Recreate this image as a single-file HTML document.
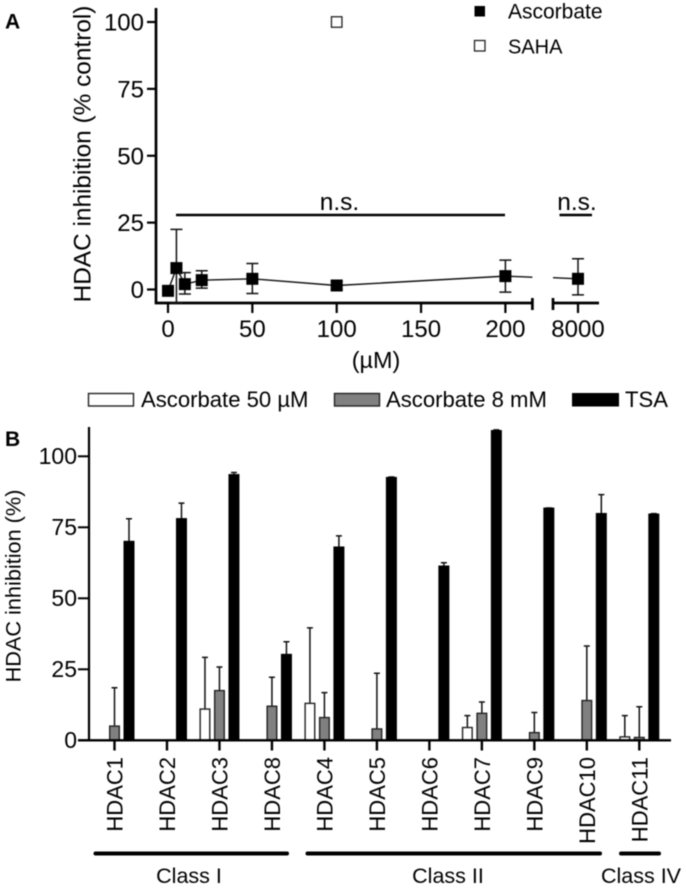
<!DOCTYPE html>
<html lang="en">
<head>
<meta charset="utf-8">
<title>HDAC inhibition chart</title>
<style>
html,body{margin:0;padding:0;background:#fff;}
svg{display:block;filter:blur(0.45px);}
text{font-family:"Liberation Sans",sans-serif;fill:#000;}
</style>
</head>
<body>
<svg id="chart" xmlns="http://www.w3.org/2000/svg" width="686" height="888" viewBox="0 0 686 888">
  <rect width="686" height="888" fill="#fff"/>
  <text x="5" y="28.5" font-size="21" font-weight="bold">A</text>
  <text x="5" y="446" font-size="21" font-weight="bold">B</text>
  <text transform="translate(90.5,154) rotate(-90)" text-anchor="middle" font-size="24.4">HDAC inhibition (% control)</text>
  <text x="376" y="368" text-anchor="middle" font-size="23.4">(µM)</text>
  <text transform="translate(20.5,586) rotate(-90)" text-anchor="middle" font-size="21.7">HDAC inhibition (%)</text>

  <g>
    <rect x="474.5" y="6" width="10.5" height="10.5" fill="#000"/>
    <text x="508" y="18.5" font-size="21">Ascorbate</text>
    <rect x="474.5" y="40.5" width="10.5" height="10.5" fill="#fff" stroke="#222" stroke-width="1.3"/>
    <text x="508" y="53.5" font-size="20">SAHA</text>
  </g>

  <g>
    <line x1="176" x2="505" y1="215" y2="215" stroke="#000" stroke-width="2.6"/>
    <text x="339.5" y="210" text-anchor="middle" font-size="24.5">n.s.</text>
    <line x1="559.5" x2="592" y1="215" y2="215" stroke="#000" stroke-width="2.6"/>
    <text x="577" y="210" text-anchor="middle" font-size="24.5">n.s.</text>
  </g>

  <g>
    <rect x="88.5" y="393.5" width="45" height="12.5" fill="#fff" stroke="#222" stroke-width="1.4"/>
    <text x="141" y="407" font-size="22.1">Ascorbate 50 µM</text>
    <rect x="334.5" y="393.5" width="45" height="12.5" fill="#808080" stroke="#222" stroke-width="1.4"/>
    <text x="386" y="407" font-size="22.1">Ascorbate 8 mM</text>
    <rect x="572" y="393" width="47" height="13.5" fill="#000"/>
    <text x="625" y="407" font-size="22.1">TSA</text>
  </g>

  <g>
    <line x1="95.5" x2="287" y1="853.5" y2="853.5" stroke="#000" stroke-width="4" stroke-linecap="round"/>
    <text x="189" y="883" text-anchor="middle" font-size="21.5">Class I</text>
    <line x1="307.5" x2="600" y1="853.5" y2="853.5" stroke="#000" stroke-width="4" stroke-linecap="round"/>
    <text x="448" y="883" text-anchor="middle" font-size="21.5">Class II</text>
    <line x1="621" x2="659" y1="853.5" y2="853.5" stroke="#000" stroke-width="4" stroke-linecap="round"/>
    <text x="641" y="883" text-anchor="middle" font-size="21.5">Class IV</text>
  </g>

  <g id="panelA"></g>
  <g id="panelB"></g>
</svg>

<script>
// Panel A data
const aTicksY = [0, 25, 50, 75, 100];
const aTicksX = [0, 50, 100, 150, 200];
const aTicksBroken = [8000];
const ascorbateDose = [0, 5, 10, 20, 50, 100, 200];
const ascorbateMean = [-0.5, 8, 2, 3.5, 4, 1.5, 5];
const ascorbateHigh = [-0.5, 22.5, 6.3, 7, 9.7, 3, 11];
const ascorbateLow = [-0.5, -5, -1.7, 0.5, -1.5, 0, -1];
const ascorbateBrokenDose = [8000];
const ascorbateBrokenMean = [4];
const ascorbateBrokenHigh = [11.5];
const ascorbateBrokenLow = [-2];
const sahaDose = [100];
const sahaMean = [100];
const stubDoseLeft = [216];
const stubValueLeft = [4.6];
const stubDoseRight = [7000];
const stubValueRight = [4.4];

// Panel B data
const categories = ["HDAC1","HDAC2","HDAC3","HDAC8","HDAC4","HDAC5","HDAC6","HDAC7","HDAC9","HDAC10","HDAC11"];
const bTicksY = [0, 25, 50, 75, 100];
const ascorbate50 = [null, null, 11, null, 13, null, null, 4.5, null, null, 1.2];
const ascorbate50Err = [null, null, 29.2, null, 39.6, null, null, 8.7, null, null, 8.7];
const ascorbate8 = [5, null, 17.5, 12, 8, 4, null, 9.5, 2.7, 14, 1];
const ascorbate8Err = [18.5, null, 25.8, 22.2, 16.8, 23.6, null, 13.5, 9.8, 33.2, 11.8];
const tsa = [70, 78, 93.5, 30.2, 68, 92.5, 61.3, 109, 81.7, 79.8, 79.6];
const tsaErr = [78, 83.5, 94.3, 34.7, 72, 92.7, 62.5, 109.3, 81.8, 86.5, 79.8];

const NS = "http://www.w3.org/2000/svg";
const panelA = document.getElementById("panelA");
const panelB = document.getElementById("panelB");

function make(parent, tag, attrs, txt) {
  const el = document.createElementNS(NS, tag);
  for (const k in attrs) el.setAttribute(k, attrs[k]);
  if (txt !== undefined) el.textContent = txt;
  parent.appendChild(el);
  return el;
}

// Axis functions
const axY = v => 289.5 - v * 2.675;
const axX = v => 168 + v * 1.687;
const axX2 = v => 578 + (v - 8000) * 0.025;
const byY = v => 740.3 - v * 2.84;
const bxC = i => 114.5 + i * 52.48;

// Panel A axes
let el;
el = make(panelA, "path", {d: "M156 8V303H" + axX(216) + "M" + axX(216) + " 298V310M553 298V310M553 303H599", fill: "none", stroke: "#000", "stroke-width": 2.7});



aTicksY.forEach(t => {
  el = make(panelA, "line", {x1: 147, x2: 156, y1: axY(t), y2: axY(t), stroke: "#000", "stroke-width": 2.2});
  
  
  el = make(panelA, "text", {x: 144, y: axY(t) + 8.5, "text-anchor": "end", "font-size": 24}, t);
  
  
});
aTicksX.forEach(t => {
  el = make(panelA, "line", {x1: axX(t), x2: axX(t), y1: 303, y2: 313, stroke: "#000", "stroke-width": 2.2});
  
  
  el = make(panelA, "text", {x: axX(t), y: 337, "text-anchor": "middle", "font-size": 24}, t);
  
  
});
aTicksBroken.forEach(t => {
  el = make(panelA, "line", {x1: axX2(t), x2: axX2(t), y1: 303, y2: 313, stroke: "#000", "stroke-width": 2.2});
  
  
  el = make(panelA, "text", {x: axX2(t), y: 337, "text-anchor": "middle", "font-size": 24}, t);
  
  
});

// Panel A lines
const leftPts = ascorbateDose.map((d, i) => axX(d) + "," + axY(ascorbateMean[i]));
leftPts.push(axX(stubDoseLeft[0]) + "," + axY(stubValueLeft[0]));
el = make(panelA, "polyline", {points: leftPts.join(" "), fill: "none", stroke: "#111", "stroke-width": 1.4});



const rightPts = [axX2(stubDoseRight[0]) + "," + axY(stubValueRight[0])].concat(
  ascorbateBrokenDose.map((d, i) => axX2(d) + "," + axY(ascorbateBrokenMean[i])));
el = make(panelA, "polyline", {points: rightPts.join(" "), fill: "none", stroke: "#111", "stroke-width": 1.4});



// Panel A points with error bars
function drawPoint(px, mean, hi, lo) {
  const d = "M" + px + " " + axY(hi) + "V" + axY(lo) +
    "M" + (px - 6) + " " + axY(hi) + "H" + (px + 6) +
    "M" + (px - 6) + " " + axY(lo) + "H" + (px + 6);
  const err = make(panelA, "path", {d: d, fill: "none", stroke: "#111", "stroke-width": 1.5});
  
  
  const pt = make(panelA, "rect", {x: px - 6, y: axY(mean) - 6, width: 12, height: 12, fill: "#000"});
  
  
}
ascorbateDose.forEach((d, i) => {
  drawPoint(axX(d), ascorbateMean[i], ascorbateHigh[i], ascorbateLow[i]);
});
ascorbateBrokenDose.forEach((d, i) => {
  drawPoint(axX2(d), ascorbateBrokenMean[i], ascorbateBrokenHigh[i], ascorbateBrokenLow[i]);
});
sahaDose.forEach((d, i) => {
  const s = make(panelA, "rect", {x: axX(d) - 5.25, y: axY(sahaMean[i]) - 5.25, width: 10.5, height: 10.5, fill: "#fff", stroke: "#222", "stroke-width": 1.3});
  
  
});

// Panel B axes
el = make(panelB, "line", {x1: 89, x2: 89, y1: 427, y2: 741, stroke: "#000", "stroke-width": 2.2});



bTicksY.forEach(t => {
  el = make(panelB, "line", {x1: 78, x2: 89, y1: byY(t), y2: byY(t), stroke: "#000", "stroke-width": 2});
  
  
  el = make(panelB, "text", {x: 77, y: byY(t) + 7.5, "text-anchor": "end", "font-size": 23}, t);
  
  
});

// Panel B bars
function drawBar(cx, value, errTop, fill, nameBar, nameErr) {
  if (value === null) return;
  const top = byY(value), base = byY(0), w = 9.6;
  const err = make(panelB, "path", {
    d: "M" + cx + " " + top + "V" + byY(errTop) + "M" + (cx - 3) + " " + byY(errTop) + "H" + (cx + 3),
    fill: "none", stroke: "#111", "stroke-width": 1.5});
  
  
  const bar = make(panelB, "rect", {x: cx - w / 2, y: top, width: w, height: base - top, fill: fill, stroke: fill === "#000" ? "#000" : "#222", "stroke-width": 1.4});
  
  
}

categories.forEach((c, i) => {
  const x = bxC(i);
  drawBar(x - 14.5, ascorbate50[i], ascorbate50Err[i], "#fff", "bar-ascorbate-50", "error-ascorbate-50");
  drawBar(x, ascorbate8[i], ascorbate8Err[i], "#808080", "bar-ascorbate-8", "error-ascorbate-8");
  drawBar(x + 14.5, tsa[i], tsaErr[i], "#000", "bar-tsa", "error-tsa");

  const tick = make(panelB, "line", {x1: x, x2: x, y1: byY(0), y2: 750.5, stroke: "#000", "stroke-width": 2.4});
  
  

  const label = make(panelB, "text", {transform: "translate(" + (x + 8) + ",757) rotate(-90)", "text-anchor": "end", "font-size": 22}, c);
  
  
});

el = make(panelB, "line", {x1: 78, x2: 671, y1: byY(0), y2: byY(0), stroke: "#000", "stroke-width": 2.4});


</script>
</body>
</html>
